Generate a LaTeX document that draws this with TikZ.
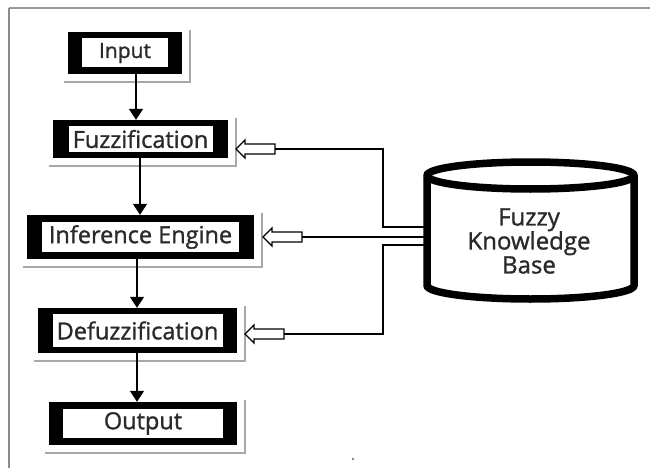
\documentclass[tikz,border=0pt]{standalone}
\usepackage{fontspec}
\setmainfont{Open Sans}
\newfontfamily\labelfont[FakeBold=1.2]{Open Sans}
\usetikzlibrary{arrows.meta}

\definecolor{txt}{HTML}{2A2A2A}
\definecolor{shadowgray}{HTML}{A8A8A8}

\tikzset{
  outerbox/.style={fill=black, draw=none, inner sep=0pt},
  innerbox/.style={fill=white, draw=none, inner sep=0pt, text=txt,
                   font=\labelfont\fontsize{23.5}{27}\selectfont},
  shadowln/.style={draw=shadowgray, line width=2pt},
  flow/.style={draw=black, line width=1.5pt,
               -{Triangle[length=11pt,width=14pt]}},
  link/.style={draw=black, line width=1.5pt},
  hollowarrow/.pic={
    \draw[black, line width=1.4pt, fill=white, line join=miter]
      (0,0) -- (9,-9) -- (9,-5) -- (39,-5) -- (39,5) -- (9,5) -- (9,9) -- cycle;
    \coordinate (-tail) at (39,0);
    \coordinate (-tip) at (0,0);
  }
}

\newcommand\boxshadow[1]{%
  \draw[shadowln] ([xshift=-4pt,yshift=-8pt]#1.south west)
    -| ([xshift=8pt,yshift=2pt]#1.north east);}

\begin{document}
\begin{tikzpicture}[x=1pt,y=-1pt]
\useasboundingbox (0,0) rectangle (650,468);
\fill[white] (0,0) rectangle (650,468);

% page frame
\draw[draw=gray!80, line width=1.5pt] (9,8) -- (650,8);
\draw[draw=gray!110!black, line width=1.5pt] (9,8) -- (9,468);

% processing chain: black framed boxes
\node[outerbox, minimum width=114, minimum height=42] (inp) at (125,53) {};
\node[innerbox, minimum width=86, minimum height=29, font=\labelfont\fontsize{21}{25}\selectfont] (inpT) at (inp.center) {Input};

\node[outerbox, minimum width=175, minimum height=38] (fuz) at (140.5,139) {};
\node[innerbox, minimum width=144, minimum height=26] (fuzT) at (fuz.center) {Fuzzification};

\node[outerbox, minimum width=227, minimum height=44] (inf) at (140.5,237) {};
\node[innerbox, minimum width=197, minimum height=30] (infT) at (inf.center) {Inference Engine};

\node[outerbox, minimum width=199, minimum height=45] (def) at (137.5,330.5) {};
\node[innerbox, minimum width=170, minimum height=33] (defT) at (def.center) {Defuzzification};

\node[outerbox, minimum width=188, minimum height=43] (out) at (143,423.5) {};
\node[innerbox, minimum width=160, minimum height=29] (outT) at (out.center) {Output};

\boxshadow{inp}
\boxshadow{fuz}
\boxshadow{inf}
\boxshadow{def}
\boxshadow{out}

% vertical flow arrows
\draw[flow] (inp.south -| 136,0) -- (fuz.north -| 136,0);
\draw[flow] (fuz.south -| 140,0) -- (inf.north -| 140,0);
\draw[flow] (inf.south -| 137,0) -- (def.north -| 137,0);
\draw[flow] (def.south -| 137,0) -- (out.north -| 137,0);

% knowledge base cylinder
\draw[line width=7.5pt, fill=white]
  (427,175.5) -- (427,285.5) arc[start angle=180, end angle=360, x radius=103.5, y radius=-13.5]
  -- (634,175.5) arc[start angle=0, end angle=180, x radius=103.5, y radius=-13.5] -- cycle;
\draw[line width=7.5pt]
  (427,175.5) arc[start angle=180, end angle=360, x radius=103.5, y radius=-13.5];
\node[text=txt, font=\labelfont\fontsize{24}{24}\selectfont, align=center,
      minimum width=215, minimum height=145, inner sep=0pt] (kb) at (529,241)
  {Fuzzy\\Knowledge\\Base};
\coordinate (kbA) at (424,227);
\coordinate (kbB) at (424,237);
\coordinate (kbC) at (424,245);

% hollow arrows pointing at the stages
\pic (fa) at (236,149) {hollowarrow};
\pic (ia) at (263,237) {hollowarrow};
\pic (da) at (245,334) {hollowarrow};

% knowledge base links
\draw[link] (fa-tail) -- (383,149) -- (383,227) -- (kbA);
\draw[link] (ia-tail) -- (kbB);
\draw[link] (da-tail) -- (383,334) -- (383,245) -- (kbC);

% stray mark
\fill[gray] (353,459) circle[radius=1.3];
\end{tikzpicture}
\end{document}
